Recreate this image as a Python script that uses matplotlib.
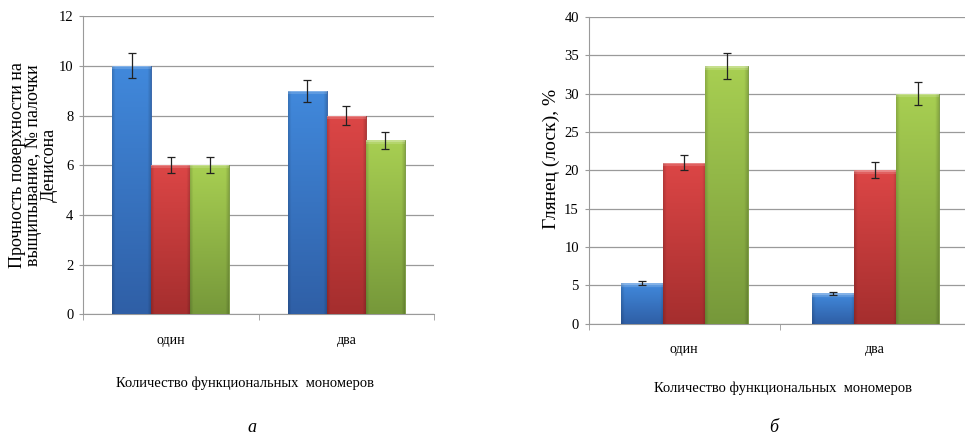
import numpy as np
import matplotlib.pyplot as plt
from matplotlib.colors import to_rgb

plt.rcParams['font.family'] = ['Liberation Serif', 'DejaVu Serif']

categories = ['один', 'два']

# прочность поверхности на выщипывание
strength_s1 = [10, 9]
strength_s2 = [6, 8]
strength_s3 = [6, 7]
strength_err1 = [0.5, 0.45]
strength_err2 = [0.32, 0.4]
strength_err3 = [0.32, 0.35]

# глянец
gloss_s1 = [5.3, 4.0]
gloss_s2 = [21, 20]
gloss_s3 = [33.6, 30]
gloss_err1 = [0.28, 0.2]
gloss_err2 = [1.0, 1.05]
gloss_err3 = [1.7, 1.5]

# верхний и нижний цвет градиента для каждой серии
shades = [('#4189dc', '#2f5fa6'),
          ('#dc4646', '#a52e2e'),
          ('#a8cf52', '#76983a')]


def gradient_img(top, bottom, n_rows):
    n_rows = max(int(n_rows), 4)
    t = np.linspace(0, 1, n_rows)[:, None, None]
    c_top = np.array(to_rgb(top))[None, None, :]
    c_bot = np.array(to_rgb(bottom))[None, None, :]
    img = c_top * (1 - t) + c_bot * t
    img = np.repeat(img, 40, axis=1)
    # затемнение по бокам
    xs = np.linspace(0, 1, 40)
    edge = 1 - 0.15 * (np.clip(1 - xs / 0.08, 0, 1) + np.clip((xs - 0.92) / 0.08, 0, 1))
    img = img * edge[None, :, None]
    # блик сверху, пара пикселей
    img[0:2] = img[0:2] * 0.65 + 0.35
    img[2:4] = img[2:4] * 0.85 + 0.15
    return np.clip(img, 0, 1)


def glossy_bars(ax, x, vals, errs, top, bottom, width, px_per_unit):
    bars = ax.bar(x, vals, width, color=bottom, edgecolor=bottom, linewidth=0.6, zorder=3)
    for r in bars:
        x0, y0 = r.get_x(), r.get_y()
        img = gradient_img(top, bottom, r.get_height() * px_per_unit)
        im = ax.imshow(img, extent=[x0, x0 + r.get_width(), y0, y0 + r.get_height()],
                       aspect='auto', zorder=3.5, interpolation='bilinear')
        im.set_clip_path(r)
    ax.errorbar(x, vals, yerr=errs, fmt='none', ecolor='#222222', elinewidth=0.9,
                capsize=3, capthick=0.9, zorder=5)


def draw_panel(ax, series, errors, ymax, ystep, ax_px_height):
    x = np.arange(len(categories))
    w = 0.222
    for i, (vals, errs) in enumerate(zip(series, errors)):
        glossy_bars(ax, x + (i - 1) * w, vals, errs, shades[i][0], shades[i][1], w,
                    ax_px_height / ymax)
    ax.set_xlim(-0.5, 1.5)
    ax.set_ylim(0, ymax)
    ax.set_yticks(np.arange(0, ymax + 0.1, ystep))
    ax.yaxis.grid(True, color='#9a9a9a', linewidth=0.9, zorder=0)
    ax.set_axisbelow(True)
    for s in ['top', 'right']:
        ax.spines[s].set_visible(False)
    ax.spines['left'].set_color('#9a9a9a')
    ax.spines['bottom'].set_color('#9a9a9a')
    ax.tick_params(axis='y', length=3, color='#9a9a9a', labelsize=10.5, pad=4)
    ax.set_xticks(x)
    ax.set_xticklabels(categories)
    ax.tick_params(axis='x', length=0, labelsize=10, pad=14)
    ax.set_xticks([-0.5, 0.5, 1.5], minor=True)
    ax.tick_params(axis='x', which='minor', length=4, color='#9a9a9a', direction='out')


fig = plt.figure(figsize=(9.65, 4.37), dpi=100)
ax1 = fig.add_axes([0.086, 0.281, 0.364, 0.682])
ax2 = fig.add_axes([0.610, 0.259, 0.396, 0.702])

draw_panel(ax1, [strength_s1, strength_s2, strength_s3],
           [strength_err1, strength_err2, strength_err3], 12, 2, 0.682 * 437)
draw_panel(ax2, [gloss_s1, gloss_s2, gloss_s3],
           [gloss_err1, gloss_err2, gloss_err3], 40, 5, 0.702 * 437)

ax1.set_ylabel('Прочность поверхности на\nвыщипывание, № палочки\nДенисона',
               fontsize=13, linespacing=0.92)
ax1.yaxis.set_label_coords(-0.071, 0.5)
ax2.set_ylabel('Глянец (лоск), %', fontsize=14)
ax2.yaxis.set_label_coords(-0.076, 0.537)

fig.text(245 / 965, 1 - 383 / 437, 'Количество функциональных  мономеров',
         ha='center', va='center', fontsize=10.5)
fig.text(783 / 965, 1 - 388 / 437, 'Количество функциональных  мономеров',
         ha='center', va='center', fontsize=10.5)
fig.text(252 / 965, 1 - 428 / 437, 'а', ha='center', va='center', fontsize=13, style='italic')
fig.text(774 / 965, 1 - 428 / 437, 'б', ha='center', va='center', fontsize=13, style='italic')

fig.savefig('out.png', dpi=100)
